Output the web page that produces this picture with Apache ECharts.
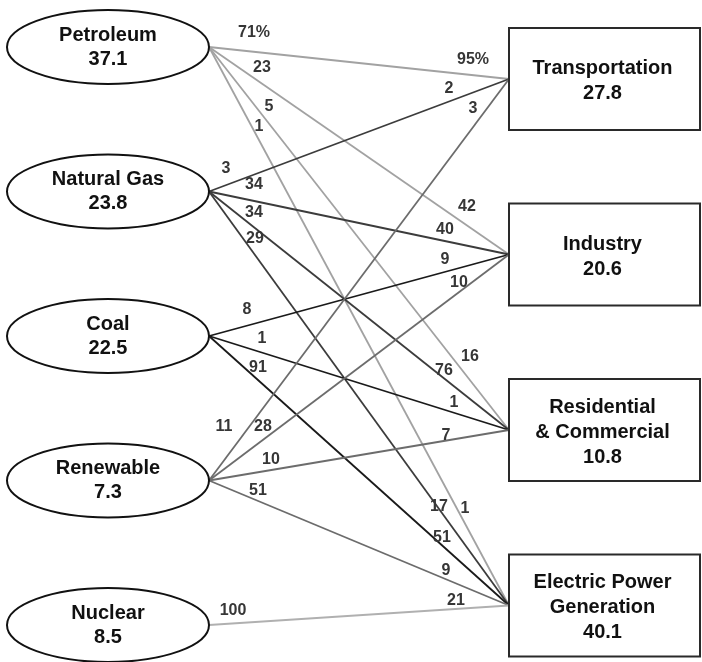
<!DOCTYPE html>
<html>
<head>
<meta charset="utf-8">
<title>Energy flows by source and sector</title>
<script src="https://cdn.jsdelivr.net/npm/echarts@6/dist/echarts.min.js"></script>
<style>
  html, body { margin: 0; padding: 0; background: #fff; }
  #chart { width: 702px; height: 662px; }
</style>
</head>
<body>
<div id="chart"></div>
<script>
// energy sources (left) and end-use sectors (right), totals
const sources = ['Petroleum', 'Natural Gas', 'Coal', 'Renewable', 'Nuclear'];
const sourceTotals = [37.1, 23.8, 22.5, 7.3, 8.5];
const sectors = ['Transportation', 'Industry', 'Residential\n& Commercial', 'Electric Power\nGeneration'];
const sectorTotals = [27.8, 20.6, 10.8, 40.1];

// flows: source index -> sector index
const flowFrom = [0, 0, 0, 0, 1, 1, 1, 1, 2, 2, 2, 3, 3, 3, 3, 4];
const flowTo   = [0, 1, 2, 3, 0, 1, 2, 3, 1, 2, 3, 0, 1, 2, 3, 3];
// % of the source going to the sector, % of the sector coming from the source
const pctOfSource = [71, 23, 5, 1, 3, 34, 34, 29, 8, 1, 91, 11, 28, 10, 51, 100];
const pctOfSector = [95, 42, 16, 1, 2, 40, 76, 17, 9, 1, 51, 3, 10, 7, 9, 21];

// ---- layout (px, the axes below are 1:1 with the canvas) ----
const L = {
  ellipseCx: 108, rx: 101, ry: 37,
  srcTop: 47, srcStep: 144.5,
  boxLeft: 509, boxRight: 700, boxH: 102,
  tgtTop: 79, tgtStep: 175.5
};
const srcY = i => L.srcTop + i * L.srcStep;
const tgtY = j => L.tgtTop + j * L.tgtStep;
const srcColors = ['#a2a2a2', '#3c3c3c', '#1a1a1a', '#6c6c6c', '#b0b0b0'];

// label placement: [dx from the line end, dy from the line]
const srcLabelOffset = [[45, -19], [53, -16], [60, -17], [50, -13], [17, -17], [45, -16], [45, -15], [46, -16],
  [38, -16], [53, -14], [49, -12], [15, -34], [54, -13], [62, -10], [49, -10], [24, -13]];
const tgtLabelOffset = [[-36, -16], [-42, -19], [-39, -24], [-44, -15], [-60, -13], [-64, -11], [-65, -8], [-70, -2],
  [-64, -12], [-55, -10], [-67, -8], [-36, -19], [-50, -10], [-63, -5], [-63, -9], [-53, -8]];

const nodeFont = 'bold 20px "Liberation Sans", Arial, sans-serif';
const pctFont = 'bold 16px "Liberation Sans", Arial, sans-serif';

const chart = echarts.init(document.getElementById('chart'));

const option = {
  animation: false,
  grid: { left: 0, right: 0, top: 0, bottom: 0 },
  xAxis: { type: 'value', min: 0, max: 702, show: false },
  yAxis: { type: 'value', min: 0, max: 662, inverse: true, show: false },
  series: [
    {
      type: 'custom',
      name: 'flows',
      silent: true,
      data: flowFrom.map((s, k) => [s, flowTo[k], pctOfSource[k], pctOfSector[k]]),
      renderItem: (params, api) => {
        const k = params.dataIndex;
        const s = api.value(0);
        const t = api.value(1);
        const p0 = api.coord([L.ellipseCx + L.rx, srcY(s)]);
        const p1 = api.coord([L.boxLeft, tgtY(t)]);
        const m = (p1[1] - p0[1]) / (p1[0] - p0[0]);
        const fmt = v => (k === 0 ? v + '%' : String(v));
        const so = srcLabelOffset[k];
        const to = tgtLabelOffset[k];
        return {
          type: 'group',
          children: [
            {
              type: 'line',
              shape: { x1: p0[0], y1: p0[1], x2: p1[0], y2: p1[1] },
              style: { stroke: srcColors[s], lineWidth: 1.8 }
            },
            {
              type: 'text', z2: 10,
              style: {
                text: fmt(api.value(2)), x: p0[0] + so[0], y: p0[1] + m * so[0] + so[1],
                align: 'center', verticalAlign: 'middle', font: pctFont, fill: '#363636'
              }
            },
            {
              type: 'text', z2: 10,
              style: {
                text: fmt(api.value(3)), x: p1[0] + to[0], y: p1[1] + m * to[0] + to[1],
                align: 'center', verticalAlign: 'middle', font: pctFont, fill: '#363636'
              }
            }
          ]
        };
      }
    },
    {
      type: 'custom',
      name: 'sources',
      silent: true,
      data: sourceTotals.map((v, i) => [i, v]),
      renderItem: (params, api) => {
        const i = api.value(0);
        const c = api.coord([L.ellipseCx, srcY(i)]);
        return {
          type: 'group',
          children: [
            {
              type: 'ellipse',
              shape: { cx: c[0], cy: c[1], rx: L.rx, ry: L.ry },
              style: { fill: '#fff', stroke: '#111', lineWidth: 2 }
            },
            {
              type: 'text',
              style: {
                text: sources[i] + '\n' + api.value(1), x: c[0], y: c[1],
                align: 'center', verticalAlign: 'middle', font: nodeFont, lineHeight: 24, fill: '#111'
              }
            }
          ]
        };
      }
    },
    {
      type: 'custom',
      name: 'sectors',
      silent: true,
      data: sectorTotals.map((v, j) => [j, v]),
      renderItem: (params, api) => {
        const j = api.value(0);
        const a = api.coord([L.boxLeft, tgtY(j)]);
        const b = api.coord([L.boxRight, tgtY(j)]);
        return {
          type: 'group',
          children: [
            {
              type: 'rect',
              shape: { x: a[0], y: a[1] - L.boxH / 2, width: b[0] - a[0], height: L.boxH },
              style: { fill: '#fff', stroke: '#2a2a2a', lineWidth: 2 }
            },
            {
              type: 'text',
              style: {
                text: sectors[j] + '\n' + api.value(1), x: (a[0] + b[0]) / 2 - 2, y: a[1] + 2,
                align: 'center', verticalAlign: 'middle', font: nodeFont, lineHeight: 25, fill: '#111'
              }
            }
          ]
        };
      }
    }
  ]
};

chart.setOption(option);
</script>
</body>
</html>
